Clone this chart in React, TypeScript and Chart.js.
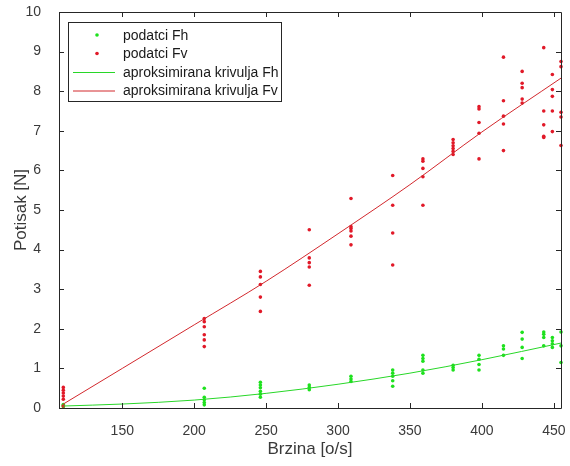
import React, { useEffect, useRef } from "react";
import { Chart, registerables } from "chart.js";

Chart.register(...registerables);

// ---- data ----
const speeds = [109, 207, 246, 280, 309, 338, 359, 380, 398, 415, 428, 443, 449, 455];

const fhMeasured: number[][] = [
  [0.03, 0.06, 0.09],
  [0.5, 0.27, 0.21, 0.14, 0.08],
  [0.65, 0.58, 0.51, 0.42, 0.35, 0.27],
  [0.58, 0.52, 0.46],
  [0.8, 0.73, 0.67],
  [0.96, 0.88, 0.8, 0.69, 0.55],
  [1.33, 1.25, 1.18, 0.96, 0.88],
  [1.08, 1.02, 0.96],
  [1.33, 1.23, 1.1, 0.96],
  [1.57, 1.49, 1.33],
  [1.91, 1.74, 1.53, 1.25],
  [1.92, 1.86, 1.78, 1.57],
  [1.78, 1.7, 1.62, 1.53],
  [1.92, 1.57, 1.15],
];

const fvMeasured: number[][] = [
  [0.52, 0.45, 0.38, 0.3, 0.22, 0.05],
  [2.26, 2.18, 2.05, 1.85, 1.72, 1.55],
  [3.45, 3.31, 3.12, 2.8, 2.44],
  [4.5, 3.79, 3.67, 3.56, 3.1],
  [5.29, 4.58, 4.53, 4.47, 4.34, 4.12],
  [5.87, 5.12, 4.42, 3.61],
  [6.29, 6.23, 6.05, 5.84, 5.12],
  [6.78, 6.7, 6.62, 6.55, 6.48, 6.4],
  [7.61, 7.55, 7.21, 6.94, 6.29],
  [8.86, 7.76, 7.37, 7.17, 6.5],
  [8.5, 8.2, 8.09, 7.8, 7.7],
  [9.1, 7.5, 7.15, 6.86, 6.83],
  [8.42, 8.04, 7.87, 7.5, 6.98],
  [8.75, 8.62, 7.47, 7.35, 6.63],
];

const fitSpeeds = [109, 150, 200, 250, 300, 350, 400, 455];
const fitFh = [0.05, 0.1, 0.2, 0.37, 0.6, 0.88, 1.22, 1.64];
const fitFv = [0.1, 1.0, 2.1, 3.2, 4.4, 5.64, 6.97, 8.33];

const xTickValues = [150, 200, 250, 300, 350, 400, 450];
const yTickValues = [0, 1, 2, 3, 4, 5, 6, 7, 8, 9, 10];

const labels = [
  "podatci Fh",
  "podatci Fv",
  "aproksimirana krivulja Fh",
  "aproksimirana krivulja Fv",
];

const GREEN_PT = "rgb(30,225,30)";
const RED_PT = "rgb(225,25,40)";
const GREEN_LINE = "rgb(40,215,40)";
const RED_LINE = "rgb(210,40,45)";
const AXIS = "#262626";
const TEXT = "#3a3a3a";
const FONT = "'Liberation Sans', Arial, Helvetica, sans-serif";

function toPoints(xs: number[], groups: number[][]) {
  const out: { x: number; y: number }[] = [];
  groups.forEach((g, i) => g.forEach((v) => out.push({ x: xs[i], y: v })));
  return out;
}
function toLine(xs: number[], ys: number[]) {
  return xs.map((x, i) => ({ x, y: ys[i] }));
}

const boxAndTicks = {
  id: "boxAndTicks",
  afterDatasetsDraw(chart: any) {
    const { ctx, chartArea } = chart;
    const { left, right, top, bottom } = chartArea;
    const xs = chart.scales.x;
    const ys = chart.scales.y;
    const tl = 5;
    ctx.save();
    ctx.strokeStyle = AXIS;
    ctx.lineWidth = 1;
    ctx.beginPath();
    ctx.rect(Math.round(left) + 0.5, Math.round(top) + 0.5, Math.round(right - left), Math.round(bottom - top));
    for (const v of xTickValues) {
      const px = Math.round(xs.getPixelForValue(v)) + 0.5;
      ctx.moveTo(px, bottom);
      ctx.lineTo(px, bottom - tl);
      ctx.moveTo(px, top);
      ctx.lineTo(px, top + tl);
    }
    for (const v of yTickValues) {
      const py = Math.round(ys.getPixelForValue(v)) + 0.5;
      ctx.moveTo(left, py);
      ctx.lineTo(left + tl, py);
      ctx.moveTo(right, py);
      ctx.lineTo(right - tl, py);
    }
    ctx.stroke();
    ctx.restore();
  },
  afterDraw(chart: any) {
    const { ctx, chartArea } = chart;
    const bx = chartArea.left + 9.5;
    const by = chartArea.top + 10.5;
    const bw = 213;
    const bh = 79;
    ctx.save();
    ctx.fillStyle = "#ffffff";
    ctx.fillRect(bx, by, bw, bh);
    ctx.strokeStyle = AXIS;
    ctx.lineWidth = 1;
    ctx.strokeRect(bx, by, bw, bh);
    const rowY = [35, 53.5, 72, 90.5];
    const colors = [GREEN_PT, RED_PT, GREEN_LINE, RED_LINE];
    ctx.font = `14px ${FONT}`;
    ctx.textBaseline = "middle";
    ctx.textAlign = "left";
    rowY.forEach((y, i) => {
      if (i < 2) {
        ctx.fillStyle = colors[i];
        ctx.beginPath();
        ctx.arc(97, y, 1.8, 0, Math.PI * 2);
        ctx.fill();
      } else {
        ctx.strokeStyle = colors[i];
        ctx.beginPath();
        ctx.moveTo(73, y + 0.5);
        ctx.lineTo(115, y + 0.5);
        ctx.stroke();
      }
      ctx.fillStyle = "#1a1a1a";
      ctx.fillText(labels[i], 123, y + 1);
    });
    ctx.restore();
  },
};

export default function App() {
  const ref = useRef<HTMLCanvasElement | null>(null);
  useEffect(() => {
    if (!ref.current) return;
    const chart = new Chart(ref.current, {
      type: "scatter",
      data: {
        datasets: [
          {
            label: labels[3],
            data: toLine(fitSpeeds, fitFv),
            showLine: true,
            borderColor: RED_LINE,
            borderWidth: 1,
            pointRadius: 0,
            cubicInterpolationMode: "monotone",
            order: 0,
          },
          {
            label: labels[2],
            data: toLine(fitSpeeds, fitFh),
            showLine: true,
            borderColor: GREEN_LINE,
            borderWidth: 1,
            pointRadius: 0,
            cubicInterpolationMode: "monotone",
            order: 1,
          },
          {
            label: labels[1],
            data: toPoints(speeds, fvMeasured),
            backgroundColor: RED_PT,
            borderWidth: 0,
            pointRadius: 1.8,
            clip: false,
            order: 2,
          },
          {
            label: labels[0],
            data: toPoints(speeds, fhMeasured),
            backgroundColor: GREEN_PT,
            borderWidth: 0,
            pointRadius: 1.8,
            clip: false,
            order: 3,
          },
        ] as any,
      },
      options: {
        animation: false,
        responsive: false,
        layout: { padding: { top: 12, right: 9, left: 0, bottom: 0 } },
        plugins: { legend: { display: false }, tooltip: { enabled: false } },
        scales: {
          x: {
            type: "linear",
            min: 106,
            max: 455,
            grid: { display: false },
            border: { display: false },
            afterBuildTicks: (s: any) => {
              s.ticks = xTickValues.map((v) => ({ value: v }));
            },
            afterFit: (s: any) => {
              s.height = 58;
              s.paddingLeft = 0;
              s.paddingRight = 0;
            },
            ticks: {
              padding: 7,
              maxRotation: 0,
              color: TEXT,
              font: { family: FONT, size: 14 },
            },
            title: {
              display: true,
              text: "Brzina [o/s]",
              color: TEXT,
              font: { family: FONT, size: 17 },
              padding: { top: 0, bottom: 6 },
            },
          },
          y: {
            type: "linear",
            min: 0,
            max: 10,
            grid: { display: false },
            border: { display: false },
            afterBuildTicks: (s: any) => {
              s.ticks = yTickValues.map((v) => ({ value: v }));
            },
            afterFit: (s: any) => {
              s.width = 59;
              s.paddingTop = 0;
              s.paddingBottom = 0;
            },
            ticks: {
              padding: 10,
              color: TEXT,
              font: { family: FONT, size: 14 },
            },
            title: {
              display: true,
              text: "Potisak [N]",
              color: TEXT,
              font: { family: FONT, size: 17 },
              padding: { top: 11, bottom: 0 },
            },
          },
        },
      },
      plugins: [boxAndTicks],
    });
    return () => chart.destroy();
  }, []);
  return (
    <div style={{ position: "fixed", left: 0, top: 0, width: 570, height: 466, background: "#fff" }}>
      <canvas ref={ref} width={570} height={466} />
    </div>
  );
}
